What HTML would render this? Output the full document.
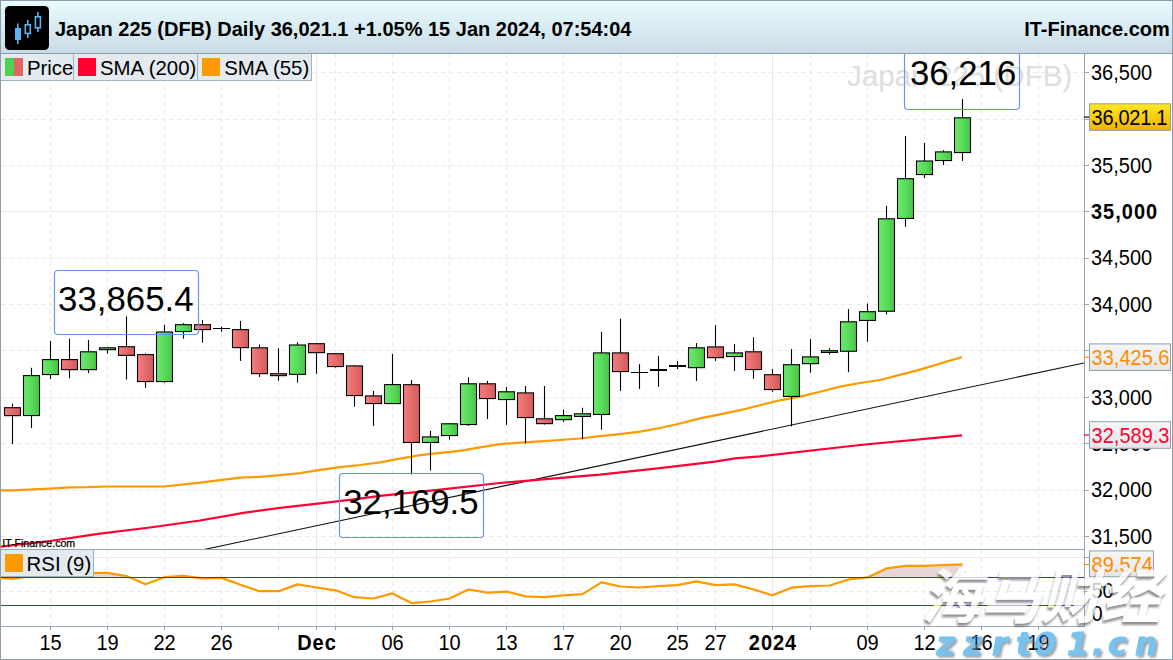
<!DOCTYPE html>
<html><head><meta charset="utf-8"><title>Japan 225 (DFB) Daily</title>
<style>
html,body{margin:0;padding:0;background:#fff;width:1173px;height:660px;overflow:hidden}
svg{display:block}
text{font-family:'Liberation Sans', Arial, sans-serif}
</style></head><body>
<svg width="1173" height="660" viewBox="0 0 1173 660">
<defs>
<linearGradient id="hdr" x1="0" y1="0" x2="0" y2="1">
 <stop offset="0" stop-color="#e8fcff"/><stop offset="1" stop-color="#c9dbe5"/>
</linearGradient>
<linearGradient id="gG" x1="0" y1="0" x2="1" y2="0">
 <stop offset="0" stop-color="#76f876"/><stop offset="0.08" stop-color="#68e868"/><stop offset="0.5" stop-color="#5bdb5b"/><stop offset="0.92" stop-color="#47c947"/><stop offset="1" stop-color="#4cd64c"/>
</linearGradient>
<linearGradient id="gR" x1="0" y1="0" x2="1" y2="0">
 <stop offset="0" stop-color="#ff8686"/><stop offset="0.08" stop-color="#f27a7a"/><stop offset="0.5" stop-color="#e56c6c"/><stop offset="0.92" stop-color="#d55d5d"/><stop offset="1" stop-color="#e06464"/>
</linearGradient>
<linearGradient id="gY" x1="0" y1="0" x2="0" y2="1">
 <stop offset="0" stop-color="#ffe824"/><stop offset="1" stop-color="#f0b400"/>
</linearGradient>
<linearGradient id="gL" x1="0" y1="0" x2="0" y2="1">
 <stop offset="0" stop-color="#f6f6f6"/><stop offset="1" stop-color="#e6e6e6"/>
</linearGradient>
<clipPath id="pclip"><rect x="1" y="54" width="1083" height="495"/></clipPath>
<clipPath id="rclip"><rect x="1" y="550" width="1083" height="76"/></clipPath>
</defs>
<rect x="0" y="0" width="1173" height="660" fill="#fff"/>

<g clip-path="url(#pclip)">
<line x1="1" y1="536.5" x2="1084" y2="536.5" stroke="#e9e9e9" stroke-width="1" stroke-dasharray="4 4"/>
<line x1="1" y1="490.5" x2="1084" y2="490.5" stroke="#e9e9e9" stroke-width="1" stroke-dasharray="4 4"/>
<line x1="1" y1="443.5" x2="1084" y2="443.5" stroke="#e9e9e9" stroke-width="1" stroke-dasharray="4 4"/>
<line x1="1" y1="397.5" x2="1084" y2="397.5" stroke="#e9e9e9" stroke-width="1" stroke-dasharray="4 4"/>
<line x1="1" y1="350.5" x2="1084" y2="350.5" stroke="#e9e9e9" stroke-width="1" stroke-dasharray="4 4"/>
<line x1="1" y1="304.5" x2="1084" y2="304.5" stroke="#e9e9e9" stroke-width="1" stroke-dasharray="4 4"/>
<line x1="1" y1="258.5" x2="1084" y2="258.5" stroke="#e9e9e9" stroke-width="1" stroke-dasharray="4 4"/>
<line x1="1" y1="211.5" x2="1084" y2="211.5" stroke="#eaeaea" stroke-width="1"/>
<line x1="1" y1="165.5" x2="1084" y2="165.5" stroke="#e9e9e9" stroke-width="1" stroke-dasharray="4 4"/>
<line x1="1" y1="119.5" x2="1084" y2="119.5" stroke="#e9e9e9" stroke-width="1" stroke-dasharray="4 4"/>
<line x1="1" y1="72.5" x2="1084" y2="72.5" stroke="#e9e9e9" stroke-width="1" stroke-dasharray="4 4"/>
<line x1="50.5" y1="54" x2="50.5" y2="549" stroke="#e9e9e9" stroke-width="1" stroke-dasharray="4 4"/>
<line x1="107.5" y1="54" x2="107.5" y2="549" stroke="#e9e9e9" stroke-width="1" stroke-dasharray="4 4"/>
<line x1="164.5" y1="54" x2="164.5" y2="549" stroke="#e9e9e9" stroke-width="1" stroke-dasharray="4 4"/>
<line x1="221.5" y1="54" x2="221.5" y2="549" stroke="#e9e9e9" stroke-width="1" stroke-dasharray="4 4"/>
<line x1="278.5" y1="54" x2="278.5" y2="549" stroke="#e9e9e9" stroke-width="1" stroke-dasharray="4 4"/>
<line x1="335.5" y1="54" x2="335.5" y2="549" stroke="#e9e9e9" stroke-width="1" stroke-dasharray="4 4"/>
<line x1="392.5" y1="54" x2="392.5" y2="549" stroke="#e9e9e9" stroke-width="1" stroke-dasharray="4 4"/>
<line x1="449.5" y1="54" x2="449.5" y2="549" stroke="#e9e9e9" stroke-width="1" stroke-dasharray="4 4"/>
<line x1="506.5" y1="54" x2="506.5" y2="549" stroke="#e9e9e9" stroke-width="1" stroke-dasharray="4 4"/>
<line x1="563.5" y1="54" x2="563.5" y2="549" stroke="#e9e9e9" stroke-width="1" stroke-dasharray="4 4"/>
<line x1="620.5" y1="54" x2="620.5" y2="549" stroke="#e9e9e9" stroke-width="1" stroke-dasharray="4 4"/>
<line x1="677.5" y1="54" x2="677.5" y2="549" stroke="#e9e9e9" stroke-width="1" stroke-dasharray="4 4"/>
<line x1="715.5" y1="54" x2="715.5" y2="549" stroke="#e9e9e9" stroke-width="1" stroke-dasharray="4 4"/>
<line x1="810.5" y1="54" x2="810.5" y2="549" stroke="#e9e9e9" stroke-width="1" stroke-dasharray="4 4"/>
<line x1="867.5" y1="54" x2="867.5" y2="549" stroke="#e9e9e9" stroke-width="1" stroke-dasharray="4 4"/>
<line x1="924.5" y1="54" x2="924.5" y2="549" stroke="#e9e9e9" stroke-width="1" stroke-dasharray="4 4"/>
<line x1="981.5" y1="54" x2="981.5" y2="549" stroke="#e9e9e9" stroke-width="1" stroke-dasharray="4 4"/>
<line x1="1038.5" y1="54" x2="1038.5" y2="549" stroke="#e9e9e9" stroke-width="1" stroke-dasharray="4 4"/>
<line x1="316.5" y1="54" x2="316.5" y2="549" stroke="#eaeaea" stroke-width="1"/>
<line x1="772.5" y1="54" x2="772.5" y2="549" stroke="#eaeaea" stroke-width="1"/>
<text x="847" y="86" font-size="29.6" fill="#dedede">Japan 225 (DFB)</text>
</g>
<g clip-path="url(#pclip)">
<line x1="200" y1="550.4" x2="1084" y2="363" stroke="#111" stroke-width="1.1"/>
<polyline points="1.0,546.6 50.0,541.0 100.0,533.7 150.0,527.5 200.0,520.5 245.0,512.6 280.0,507.9 320.0,503.3 360.0,498.7 380.0,495.8 440.0,489.6 500.0,483.0 540.0,479.6 600.0,474.7 660.0,468.1 715.0,461.6 735.0,458.4 760.0,456.3 860.0,445.0 962.0,435.3" fill="none" stroke="#ff0033" stroke-width="2.2" stroke-linejoin="round"/>
<polyline points="1.0,490.4 12.0,490.4 50.0,488.6 70.0,487.4 88.0,487.2 107.0,486.5 164.0,486.5 200.0,482.6 240.0,477.7 260.0,476.8 280.0,475.2 300.0,473.1 320.0,469.8 340.0,467.2 360.0,465.0 380.0,462.3 400.0,458.6 420.0,455.2 440.0,452.9 460.0,450.9 480.0,447.3 500.0,444.1 520.0,442.7 540.0,441.4 560.0,440.0 580.0,438.5 600.0,436.2 620.0,434.1 640.0,431.7 660.0,428.0 680.0,423.5 700.0,418.4 720.0,414.3 740.0,410.2 760.0,405.2 780.0,400.3 800.0,396.6 820.0,391.8 840.0,386.6 860.0,383.0 880.0,380.0 920.0,369.6 962.0,357.0" fill="none" stroke="#ff9900" stroke-width="2.2" stroke-linejoin="round"/>
<line x1="12.5" y1="403.7" x2="12.5" y2="444.1" stroke="#000" stroke-width="1.1"/>
<line x1="31.5" y1="367.8" x2="31.5" y2="427.9" stroke="#000" stroke-width="1.1"/>
<line x1="50.5" y1="340.9" x2="50.5" y2="379.1" stroke="#000" stroke-width="1.1"/>
<line x1="69.5" y1="338.7" x2="69.5" y2="378.2" stroke="#000" stroke-width="1.1"/>
<line x1="88.5" y1="340.0" x2="88.5" y2="373.1" stroke="#000" stroke-width="1.1"/>
<line x1="107.5" y1="347.3" x2="107.5" y2="353.6" stroke="#000" stroke-width="1.1"/>
<line x1="126.5" y1="316.4" x2="126.5" y2="379.5" stroke="#000" stroke-width="1.1"/>
<line x1="145.5" y1="353.3" x2="145.5" y2="387.8" stroke="#000" stroke-width="1.1"/>
<line x1="164.5" y1="324.9" x2="164.5" y2="382.7" stroke="#000" stroke-width="1.1"/>
<line x1="183.5" y1="323.1" x2="183.5" y2="338.7" stroke="#000" stroke-width="1.1"/>
<line x1="202.5" y1="320.0" x2="202.5" y2="342.7" stroke="#000" stroke-width="1.1"/>
<line x1="221.5" y1="326.9" x2="221.5" y2="331.8" stroke="#000" stroke-width="1.1"/>
<line x1="240.5" y1="320.9" x2="240.5" y2="360.9" stroke="#000" stroke-width="1.1"/>
<line x1="259.5" y1="344.5" x2="259.5" y2="376.9" stroke="#000" stroke-width="1.1"/>
<line x1="278.5" y1="348.1" x2="278.5" y2="380.7" stroke="#000" stroke-width="1.1"/>
<line x1="297.5" y1="342.3" x2="297.5" y2="382.6" stroke="#000" stroke-width="1.1"/>
<line x1="316.5" y1="343.2" x2="316.5" y2="373.7" stroke="#000" stroke-width="1.1"/>
<line x1="335.5" y1="353.2" x2="335.5" y2="367.7" stroke="#000" stroke-width="1.1"/>
<line x1="354.5" y1="365.4" x2="354.5" y2="406.8" stroke="#000" stroke-width="1.1"/>
<line x1="373.5" y1="391.0" x2="373.5" y2="425.9" stroke="#000" stroke-width="1.1"/>
<line x1="392.5" y1="353.9" x2="392.5" y2="403.5" stroke="#000" stroke-width="1.1"/>
<line x1="411.5" y1="380.0" x2="411.5" y2="474.5" stroke="#000" stroke-width="1.1"/>
<line x1="430.5" y1="430.9" x2="430.5" y2="470.5" stroke="#000" stroke-width="1.1"/>
<line x1="449.5" y1="423.3" x2="449.5" y2="439.6" stroke="#000" stroke-width="1.1"/>
<line x1="468.5" y1="377.3" x2="468.5" y2="425.8" stroke="#000" stroke-width="1.1"/>
<line x1="487.5" y1="380.9" x2="487.5" y2="419.1" stroke="#000" stroke-width="1.1"/>
<line x1="506.5" y1="386.9" x2="506.5" y2="424.9" stroke="#000" stroke-width="1.1"/>
<line x1="525.5" y1="386.0" x2="525.5" y2="443.6" stroke="#000" stroke-width="1.1"/>
<line x1="544.5" y1="386.0" x2="544.5" y2="424.5" stroke="#000" stroke-width="1.1"/>
<line x1="563.5" y1="409.6" x2="563.5" y2="421.8" stroke="#000" stroke-width="1.1"/>
<line x1="582.5" y1="407.8" x2="582.5" y2="439.1" stroke="#000" stroke-width="1.1"/>
<line x1="601.5" y1="331.8" x2="601.5" y2="429.6" stroke="#000" stroke-width="1.1"/>
<line x1="620.5" y1="318.7" x2="620.5" y2="390.9" stroke="#000" stroke-width="1.1"/>
<line x1="639.5" y1="364.2" x2="639.5" y2="388.9" stroke="#000" stroke-width="1.1"/>
<line x1="658.5" y1="356.1" x2="658.5" y2="386.8" stroke="#000" stroke-width="1.1"/>
<line x1="677.5" y1="361.1" x2="677.5" y2="369.0" stroke="#000" stroke-width="1.1"/>
<line x1="696.5" y1="343.1" x2="696.5" y2="380.9" stroke="#000" stroke-width="1.1"/>
<line x1="715.5" y1="325.1" x2="715.5" y2="360.9" stroke="#000" stroke-width="1.1"/>
<line x1="734.5" y1="344.0" x2="734.5" y2="370.9" stroke="#000" stroke-width="1.1"/>
<line x1="753.5" y1="337.3" x2="753.5" y2="378.7" stroke="#000" stroke-width="1.1"/>
<line x1="772.5" y1="369.1" x2="772.5" y2="391.8" stroke="#000" stroke-width="1.1"/>
<line x1="791.5" y1="349.1" x2="791.5" y2="426.4" stroke="#000" stroke-width="1.1"/>
<line x1="810.5" y1="339.1" x2="810.5" y2="372.7" stroke="#000" stroke-width="1.1"/>
<line x1="829.5" y1="348.2" x2="829.5" y2="354.5" stroke="#000" stroke-width="1.1"/>
<line x1="848.5" y1="309.0" x2="848.5" y2="372.2" stroke="#000" stroke-width="1.1"/>
<line x1="867.5" y1="303.5" x2="867.5" y2="341.7" stroke="#000" stroke-width="1.1"/>
<line x1="886.5" y1="205.9" x2="886.5" y2="314.4" stroke="#000" stroke-width="1.1"/>
<line x1="905.5" y1="135.9" x2="905.5" y2="226.8" stroke="#000" stroke-width="1.1"/>
<line x1="924.5" y1="143.0" x2="924.5" y2="178.0" stroke="#000" stroke-width="1.1"/>
<line x1="943.5" y1="150.2" x2="943.5" y2="165.0" stroke="#000" stroke-width="1.1"/>
<line x1="962.5" y1="99.1" x2="962.5" y2="160.9" stroke="#000" stroke-width="1.1"/>
<rect x="4.5" y="407.70" width="16" height="7.95" fill="url(#gR)" stroke="#000" stroke-width="1.1"/>
<rect x="23.5" y="375.60" width="16" height="39.95" fill="url(#gG)" stroke="#000" stroke-width="1.1"/>
<rect x="42.5" y="359.60" width="16" height="14.95" fill="url(#gG)" stroke="#000" stroke-width="1.1"/>
<rect x="61.5" y="359.60" width="16" height="10.05" fill="url(#gR)" stroke="#000" stroke-width="1.1"/>
<rect x="80.5" y="351.80" width="16" height="17.85" fill="url(#gG)" stroke="#000" stroke-width="1.1"/>
<rect x="99.5" y="347.80" width="16" height="1.85" fill="url(#gG)" stroke="#000" stroke-width="1.1"/>
<rect x="118.5" y="346.70" width="16" height="8.65" fill="url(#gR)" stroke="#000" stroke-width="1.1"/>
<rect x="137.5" y="354.60" width="16" height="26.95" fill="url(#gR)" stroke="#000" stroke-width="1.1"/>
<rect x="156.5" y="332.00" width="16" height="49.55" fill="url(#gG)" stroke="#000" stroke-width="1.1"/>
<rect x="175.5" y="324.70" width="16" height="6.85" fill="url(#gG)" stroke="#000" stroke-width="1.1"/>
<rect x="194.5" y="324.70" width="16" height="4.85" fill="url(#gR)" stroke="#000" stroke-width="1.1"/>
<rect x="213" y="328.00" width="17" height="1.00" fill="#000"/>
<rect x="232.5" y="329.60" width="16" height="18.05" fill="url(#gR)" stroke="#000" stroke-width="1.1"/>
<rect x="251.5" y="347.80" width="16" height="25.85" fill="url(#gR)" stroke="#000" stroke-width="1.1"/>
<rect x="270.5" y="373.70" width="16" height="1.95" fill="url(#gR)" stroke="#000" stroke-width="1.1"/>
<rect x="289.5" y="345.00" width="16" height="29.35" fill="url(#gG)" stroke="#000" stroke-width="1.1"/>
<rect x="308.5" y="343.70" width="16" height="8.95" fill="url(#gR)" stroke="#000" stroke-width="1.1"/>
<rect x="327.5" y="353.70" width="16" height="12.85" fill="url(#gR)" stroke="#000" stroke-width="1.1"/>
<rect x="346.5" y="365.90" width="16" height="29.65" fill="url(#gR)" stroke="#000" stroke-width="1.1"/>
<rect x="365.5" y="395.90" width="16" height="7.65" fill="url(#gR)" stroke="#000" stroke-width="1.1"/>
<rect x="384.5" y="384.60" width="16" height="18.95" fill="url(#gG)" stroke="#000" stroke-width="1.1"/>
<rect x="403.5" y="384.70" width="16" height="57.75" fill="url(#gR)" stroke="#000" stroke-width="1.1"/>
<rect x="422.5" y="436.90" width="16" height="5.55" fill="url(#gG)" stroke="#000" stroke-width="1.1"/>
<rect x="441.5" y="423.80" width="16" height="11.75" fill="url(#gG)" stroke="#000" stroke-width="1.1"/>
<rect x="460.5" y="383.80" width="16" height="40.75" fill="url(#gG)" stroke="#000" stroke-width="1.1"/>
<rect x="479.5" y="383.80" width="16" height="14.75" fill="url(#gR)" stroke="#000" stroke-width="1.1"/>
<rect x="498.5" y="391.80" width="16" height="7.75" fill="url(#gG)" stroke="#000" stroke-width="1.1"/>
<rect x="517.5" y="392.90" width="16" height="24.65" fill="url(#gR)" stroke="#000" stroke-width="1.1"/>
<rect x="536.5" y="418.80" width="16" height="4.85" fill="url(#gR)" stroke="#000" stroke-width="1.1"/>
<rect x="555.5" y="415.60" width="16" height="4.05" fill="url(#gG)" stroke="#000" stroke-width="1.1"/>
<rect x="574.5" y="413.80" width="16" height="2.65" fill="url(#gG)" stroke="#000" stroke-width="1.1"/>
<rect x="593.5" y="352.90" width="16" height="61.55" fill="url(#gG)" stroke="#000" stroke-width="1.1"/>
<rect x="612.5" y="352.90" width="16" height="18.65" fill="url(#gR)" stroke="#000" stroke-width="1.1"/>
<rect x="631" y="372.00" width="17" height="1.00" fill="#000"/>
<rect x="650" y="369.00" width="17" height="2.00" fill="#000"/>
<rect x="669" y="365.00" width="17" height="2.00" fill="#000"/>
<rect x="688.5" y="347.80" width="16" height="19.85" fill="url(#gG)" stroke="#000" stroke-width="1.1"/>
<rect x="707.5" y="346.90" width="16" height="10.75" fill="url(#gR)" stroke="#000" stroke-width="1.1"/>
<rect x="726.5" y="352.90" width="16" height="3.65" fill="url(#gG)" stroke="#000" stroke-width="1.1"/>
<rect x="745.5" y="351.80" width="16" height="17.75" fill="url(#gR)" stroke="#000" stroke-width="1.1"/>
<rect x="764.5" y="374.70" width="16" height="14.85" fill="url(#gR)" stroke="#000" stroke-width="1.1"/>
<rect x="783.5" y="364.70" width="16" height="31.75" fill="url(#gG)" stroke="#000" stroke-width="1.1"/>
<rect x="802.5" y="356.90" width="16" height="6.75" fill="url(#gG)" stroke="#000" stroke-width="1.1"/>
<rect x="821.5" y="350.70" width="16" height="1.75" fill="url(#gG)" stroke="#000" stroke-width="1.1"/>
<rect x="840.5" y="321.80" width="16" height="29.45" fill="url(#gG)" stroke="#000" stroke-width="1.1"/>
<rect x="859.5" y="311.70" width="16" height="8.75" fill="url(#gG)" stroke="#000" stroke-width="1.1"/>
<rect x="878.5" y="218.80" width="16" height="92.45" fill="url(#gG)" stroke="#000" stroke-width="1.1"/>
<rect x="897.5" y="178.70" width="16" height="39.75" fill="url(#gG)" stroke="#000" stroke-width="1.1"/>
<rect x="916.5" y="161.00" width="16" height="13.55" fill="url(#gG)" stroke="#000" stroke-width="1.1"/>
<rect x="935.5" y="151.90" width="16" height="8.65" fill="url(#gG)" stroke="#000" stroke-width="1.1"/>
<rect x="954.5" y="117.80" width="16" height="34.75" fill="url(#gG)" stroke="#000" stroke-width="1.1"/>
<rect x="54.5" y="270.5" width="144" height="64" rx="3.5" fill="none" stroke="#6a95ee" stroke-width="1.2"/>
<text x="58.1" y="310.6" font-size="34.8" fill="#000">33,865.4</text>
<rect x="339.5" y="473.5" width="144" height="64" rx="3.5" fill="none" stroke="#6a95ee" stroke-width="1.2"/>
<text x="343.2" y="514" font-size="34.8" fill="#000">32,169.5</text>
<rect x="904.5" y="45.5" width="115" height="64" rx="3.5" fill="none" stroke="#6a95ee" stroke-width="1.2"/>
<text x="909.9" y="84.9" font-size="34.8" fill="#000">36,216</text>
<text x="2.2" y="546.7" font-size="10.6" fill="#000" stroke="#000" stroke-width="0.25">IT-Finance.com</text>
</g>
<g clip-path="url(#rclip)">
<line x1="1" y1="557.5" x2="1084" y2="557.5" stroke="#eaeaea" stroke-width="1"/>
<line x1="1" y1="591.5" x2="1084" y2="591.5" stroke="#e9e9e9" stroke-width="1" stroke-dasharray="4 4"/>
<line x1="50.5" y1="550" x2="50.5" y2="626" stroke="#e9e9e9" stroke-width="1" stroke-dasharray="4 4"/>
<line x1="107.5" y1="550" x2="107.5" y2="626" stroke="#e9e9e9" stroke-width="1" stroke-dasharray="4 4"/>
<line x1="164.5" y1="550" x2="164.5" y2="626" stroke="#e9e9e9" stroke-width="1" stroke-dasharray="4 4"/>
<line x1="221.5" y1="550" x2="221.5" y2="626" stroke="#e9e9e9" stroke-width="1" stroke-dasharray="4 4"/>
<line x1="278.5" y1="550" x2="278.5" y2="626" stroke="#e9e9e9" stroke-width="1" stroke-dasharray="4 4"/>
<line x1="335.5" y1="550" x2="335.5" y2="626" stroke="#e9e9e9" stroke-width="1" stroke-dasharray="4 4"/>
<line x1="392.5" y1="550" x2="392.5" y2="626" stroke="#e9e9e9" stroke-width="1" stroke-dasharray="4 4"/>
<line x1="449.5" y1="550" x2="449.5" y2="626" stroke="#e9e9e9" stroke-width="1" stroke-dasharray="4 4"/>
<line x1="506.5" y1="550" x2="506.5" y2="626" stroke="#e9e9e9" stroke-width="1" stroke-dasharray="4 4"/>
<line x1="563.5" y1="550" x2="563.5" y2="626" stroke="#e9e9e9" stroke-width="1" stroke-dasharray="4 4"/>
<line x1="620.5" y1="550" x2="620.5" y2="626" stroke="#e9e9e9" stroke-width="1" stroke-dasharray="4 4"/>
<line x1="677.5" y1="550" x2="677.5" y2="626" stroke="#e9e9e9" stroke-width="1" stroke-dasharray="4 4"/>
<line x1="715.5" y1="550" x2="715.5" y2="626" stroke="#e9e9e9" stroke-width="1" stroke-dasharray="4 4"/>
<line x1="810.5" y1="550" x2="810.5" y2="626" stroke="#e9e9e9" stroke-width="1" stroke-dasharray="4 4"/>
<line x1="867.5" y1="550" x2="867.5" y2="626" stroke="#e9e9e9" stroke-width="1" stroke-dasharray="4 4"/>
<line x1="924.5" y1="550" x2="924.5" y2="626" stroke="#e9e9e9" stroke-width="1" stroke-dasharray="4 4"/>
<line x1="981.5" y1="550" x2="981.5" y2="626" stroke="#e9e9e9" stroke-width="1" stroke-dasharray="4 4"/>
<line x1="1038.5" y1="550" x2="1038.5" y2="626" stroke="#e9e9e9" stroke-width="1" stroke-dasharray="4 4"/>
<line x1="316.5" y1="550" x2="316.5" y2="626" stroke="#eaeaea" stroke-width="1"/>
<line x1="772.5" y1="550" x2="772.5" y2="626" stroke="#eaeaea" stroke-width="1"/>
<polygon points="21.4,577.6 31.5,576.0 50.5,572.5 69.5,574.0 88.5,573.0 107.5,572.9 126.5,576.1 130.0,577.6" fill="#e8d6d6"/>
<polygon points="163.4,577.6 164.5,577.2 183.5,575.8 196.7,577.6" fill="#e8d6d6"/>
<polygon points="865.7,577.6 867.5,577.4 886.5,568.4 905.5,565.8 924.5,565.8 943.5,565.0 962.5,564.3 962.5,577.6" fill="#e8d6d6"/>
<polyline points="0.0,577.9 12.5,579.0 31.5,576.0 50.5,572.5 69.5,574.0 88.5,573.0 107.5,572.9 126.5,576.1 145.5,584.3 164.5,577.2 183.5,575.8 202.5,578.4 221.5,577.9 240.5,584.8 259.5,591.2 278.5,591.2 297.5,584.4 316.5,587.5 335.5,590.3 354.5,597.2 373.5,598.5 392.5,593.4 411.5,603.1 430.5,601.5 449.5,598.5 468.5,589.5 487.5,592.6 506.5,591.6 525.5,596.4 544.5,597.2 563.5,595.4 582.5,594.1 601.5,582.4 620.5,586.5 639.5,587.5 658.5,586.2 677.5,585.2 696.5,581.3 715.5,585.2 734.5,584.4 753.5,589.5 772.5,595.2 791.5,587.7 810.5,586.2 829.5,585.5 848.5,579.5 867.5,577.4 886.5,568.4 905.5,565.8 924.5,565.8 943.5,565.0 962.5,564.3" fill="none" stroke="#ff9900" stroke-width="2.2" stroke-linejoin="round"/>
<line x1="1" y1="577.5" x2="1084" y2="577.5" stroke="#3434dc" stroke-width="1.1"/>
<line x1="1" y1="605.5" x2="1084" y2="605.5" stroke="#3434dc" stroke-width="1.1"/>
</g>
<line x1="0" y1="549.5" x2="1084" y2="549.5" stroke="#97a7b2" stroke-width="1"/>
<line x1="0" y1="626.5" x2="1084" y2="626.5" stroke="#97a7b2" stroke-width="1"/>
<line x1="1084.5" y1="54" x2="1084.5" y2="627" stroke="#97a7b2" stroke-width="1"/>
<line x1="50.5" y1="626" x2="50.5" y2="630" stroke="#97a7b2" stroke-width="1"/>
<line x1="107.5" y1="626" x2="107.5" y2="630" stroke="#97a7b2" stroke-width="1"/>
<line x1="164.5" y1="626" x2="164.5" y2="630" stroke="#97a7b2" stroke-width="1"/>
<line x1="221.5" y1="626" x2="221.5" y2="630" stroke="#97a7b2" stroke-width="1"/>
<line x1="278.5" y1="626" x2="278.5" y2="630" stroke="#97a7b2" stroke-width="1"/>
<line x1="335.5" y1="626" x2="335.5" y2="630" stroke="#97a7b2" stroke-width="1"/>
<line x1="392.5" y1="626" x2="392.5" y2="630" stroke="#97a7b2" stroke-width="1"/>
<line x1="449.5" y1="626" x2="449.5" y2="630" stroke="#97a7b2" stroke-width="1"/>
<line x1="506.5" y1="626" x2="506.5" y2="630" stroke="#97a7b2" stroke-width="1"/>
<line x1="563.5" y1="626" x2="563.5" y2="630" stroke="#97a7b2" stroke-width="1"/>
<line x1="620.5" y1="626" x2="620.5" y2="630" stroke="#97a7b2" stroke-width="1"/>
<line x1="677.5" y1="626" x2="677.5" y2="630" stroke="#97a7b2" stroke-width="1"/>
<line x1="715.5" y1="626" x2="715.5" y2="630" stroke="#97a7b2" stroke-width="1"/>
<line x1="772.5" y1="626" x2="772.5" y2="630" stroke="#97a7b2" stroke-width="1"/>
<line x1="810.5" y1="626" x2="810.5" y2="630" stroke="#97a7b2" stroke-width="1"/>
<line x1="867.5" y1="626" x2="867.5" y2="630" stroke="#97a7b2" stroke-width="1"/>
<line x1="924.5" y1="626" x2="924.5" y2="630" stroke="#97a7b2" stroke-width="1"/>
<line x1="981.5" y1="626" x2="981.5" y2="630" stroke="#97a7b2" stroke-width="1"/>
<line x1="1038.5" y1="626" x2="1038.5" y2="630" stroke="#97a7b2" stroke-width="1"/>
<line x1="316.5" y1="626" x2="316.5" y2="630" stroke="#97a7b2" stroke-width="1"/>
<text transform="translate(50.5,650.4) scale(1,1.07)" font-size="20" text-anchor="middle">15</text>
<text transform="translate(107.5,650.4) scale(1,1.07)" font-size="20" text-anchor="middle">19</text>
<text transform="translate(164.5,650.4) scale(1,1.07)" font-size="20" text-anchor="middle">22</text>
<text transform="translate(221.5,650.4) scale(1,1.07)" font-size="20" text-anchor="middle">26</text>
<text transform="translate(317.0,650.4) scale(1,1.07)" font-size="20" text-anchor="middle" font-weight="bold" letter-spacing="1">Dec</text>
<text transform="translate(392.5,650.4) scale(1,1.07)" font-size="20" text-anchor="middle">06</text>
<text transform="translate(449.5,650.4) scale(1,1.07)" font-size="20" text-anchor="middle">10</text>
<text transform="translate(506.5,650.4) scale(1,1.07)" font-size="20" text-anchor="middle">13</text>
<text transform="translate(563.5,650.4) scale(1,1.07)" font-size="20" text-anchor="middle">17</text>
<text transform="translate(620.5,650.4) scale(1,1.07)" font-size="20" text-anchor="middle">20</text>
<text transform="translate(677.5,650.4) scale(1,1.07)" font-size="20" text-anchor="middle">25</text>
<text transform="translate(715.5,650.4) scale(1,1.07)" font-size="20" text-anchor="middle">27</text>
<text transform="translate(773.0,650.4) scale(1,1.07)" font-size="20" text-anchor="middle" font-weight="bold" letter-spacing="1">2024</text>
<text transform="translate(867.5,650.4) scale(1,1.07)" font-size="20" text-anchor="middle">09</text>
<text transform="translate(924.5,650.4) scale(1,1.07)" font-size="20" text-anchor="middle">12</text>
<text transform="translate(981.5,650.4) scale(1,1.07)" font-size="20" text-anchor="middle">16</text>
<text transform="translate(1038.5,650.4) scale(1,1.07)" font-size="20" text-anchor="middle">19</text>
<line x1="1084" y1="72.5" x2="1089" y2="72.5" stroke="#97a7b2" stroke-width="1"/>
<text transform="translate(1091,79.9) scale(1,1.07)" font-size="20">36,500</text>
<line x1="1084" y1="165.5" x2="1089" y2="165.5" stroke="#97a7b2" stroke-width="1"/>
<text transform="translate(1091,172.6) scale(1,1.07)" font-size="20">35,500</text>
<line x1="1084" y1="211.5" x2="1089" y2="211.5" stroke="#97a7b2" stroke-width="1"/>
<text transform="translate(1091,219.0) scale(1,1.07)" font-size="20" font-weight="bold" letter-spacing="1">35,000</text>
<line x1="1084" y1="258.5" x2="1089" y2="258.5" stroke="#97a7b2" stroke-width="1"/>
<text transform="translate(1091,265.4) scale(1,1.07)" font-size="20">34,500</text>
<line x1="1084" y1="304.5" x2="1089" y2="304.5" stroke="#97a7b2" stroke-width="1"/>
<text transform="translate(1091,311.7) scale(1,1.07)" font-size="20">34,000</text>
<line x1="1084" y1="397.5" x2="1089" y2="397.5" stroke="#97a7b2" stroke-width="1"/>
<text transform="translate(1091,404.5) scale(1,1.07)" font-size="20">33,000</text>
<line x1="1084" y1="443.5" x2="1089" y2="443.5" stroke="#97a7b2" stroke-width="1"/>
<text transform="translate(1091,450.8) scale(1,1.07)" font-size="20">32,500</text>
<line x1="1084" y1="490.5" x2="1089" y2="490.5" stroke="#97a7b2" stroke-width="1"/>
<text transform="translate(1091,497.2) scale(1,1.07)" font-size="20">32,000</text>
<line x1="1084" y1="536.5" x2="1089" y2="536.5" stroke="#97a7b2" stroke-width="1"/>
<text transform="translate(1091,543.6) scale(1,1.07)" font-size="20">31,500</text>
<line x1="1084" y1="557.5" x2="1089" y2="557.5" stroke="#97a7b2" stroke-width="1"/>
<line x1="1084" y1="591.5" x2="1089" y2="591.5" stroke="#97a7b2" stroke-width="1"/>
<text transform="translate(1091.5,598.3) scale(1,1.07)" font-size="20">50</text>
<text transform="translate(1091.5,620.6) scale(1,1.07)" font-size="20">0</text>
<line x1="1084" y1="119.5" x2="1089" y2="119.5" stroke="#97a7b2" stroke-width="1"/>
<line x1="1084" y1="350.5" x2="1089" y2="350.5" stroke="#97a7b2" stroke-width="1"/>
<line x1="1084" y1="117.1" x2="1089" y2="117.1" stroke="#000" stroke-width="1.2"/>
<rect x="1089.5" y="103.8" width="81" height="26.6" fill="url(#gY)" stroke="#8fa0aa" stroke-width="1"/>
<text transform="translate(1091.6,124.7) scale(1,1.07)" font-size="20" fill="#000" letter-spacing="-0.3">36,021.1</text>
<line x1="1084" y1="357.2" x2="1089" y2="357.2" stroke="#ff8c00" stroke-width="1.2"/>
<rect x="1089.5" y="343.9" width="81" height="26.6" fill="url(#gL)" stroke="#8fa0aa" stroke-width="1"/>
<text transform="translate(1091.6,364.8) scale(1,1.07)" font-size="20" fill="#ff8c00">33,425.6</text>
<line x1="1084" y1="435.0" x2="1089" y2="435.0" stroke="#ff0033" stroke-width="1.2"/>
<rect x="1089.5" y="421.7" width="81" height="26.6" fill="url(#gL)" stroke="#8fa0aa" stroke-width="1"/>
<text transform="translate(1091.6,442.6) scale(1,1.07)" font-size="20" fill="#ff0033">32,589.3</text>
<line x1="1084" y1="564.5" x2="1089" y2="564.5" stroke="#ff8c00" stroke-width="1.2"/>
<rect x="1089.5" y="550.9" width="64" height="25.8" fill="url(#gL)" stroke="#8fa0aa" stroke-width="1"/>
<text transform="translate(1091.6,571.7) scale(1,1.07)" font-size="20" fill="#ff8c00">89.574</text>
<rect x="0" y="0" width="1173" height="54" fill="url(#hdr)"/>
<line x1="0" y1="0.5" x2="1173" y2="0.5" stroke="#8d9ca6" stroke-width="1"/>
<line x1="0" y1="53.5" x2="1173" y2="53.5" stroke="#8d9ca6" stroke-width="1"/>
<rect x="5" y="6" width="44" height="44" rx="4.5" fill="#000"/>
<g stroke="#5ab4f0" fill="none" stroke-width="1.6"><line x1="17.8" y1="23.5" x2="17.8" y2="44"/><line x1="27.8" y1="20" x2="27.8" y2="38"/><line x1="37.9" y1="12" x2="37.9" y2="32"/></g>
<rect x="15" y="28" width="6" height="12" fill="#5ab4f0"/>
<rect x="25.3" y="24.8" width="5" height="8.6" fill="#000" stroke="#5ab4f0" stroke-width="1.6"/>
<rect x="35.4" y="16.8" width="5" height="11" fill="#000" stroke="#5ab4f0" stroke-width="1.6"/>
<text x="55" y="35.6" font-size="20" font-weight="bold" fill="#000">Japan 225 (DFB) Daily 36,021.1 +1.05% 15 Jan 2024, 07:54:04</text>
<text x="1169.8" y="35.6" font-size="20" font-weight="bold" fill="#000" text-anchor="end">IT-Finance.com</text>
<rect x="1" y="54" width="311" height="26.5" fill="#e3ebf1"/>
<line x1="1" y1="80.5" x2="312" y2="80.5" stroke="#a3b1ba" stroke-width="1"/>
<line x1="311.5" y1="54" x2="311.5" y2="81" stroke="#a3b1ba" stroke-width="1"/>
<line x1="73.5" y1="54" x2="73.5" y2="80" stroke="#a3b1ba" stroke-width="1"/>
<line x1="197.5" y1="54" x2="197.5" y2="80" stroke="#a3b1ba" stroke-width="1"/>
<rect x="5" y="58" width="9" height="18" fill="#50d050"/>
<rect x="14" y="58" width="9" height="18" fill="#e06666"/>
<text x="26.9" y="74.8" font-size="20.4">Price</text>
<rect x="78" y="58" width="18" height="18" fill="#ff0033"/>
<text x="100" y="74.8" font-size="20.4">SMA (200)</text>
<rect x="202" y="58" width="18" height="18" fill="#ff9900"/>
<text x="224.2" y="74.8" font-size="20.4">SMA (55)</text>
<rect x="1" y="550" width="92" height="26.5" fill="#e3ebf1"/>
<line x1="1" y1="576.5" x2="93.5" y2="576.5" stroke="#a3b1ba" stroke-width="1"/>
<line x1="93.5" y1="550" x2="93.5" y2="577" stroke="#a3b1ba" stroke-width="1"/>
<rect x="5" y="554" width="18" height="18" fill="#ff9900"/>
<text x="26.6" y="570.8" font-size="20.4">RSI (9)</text>
<rect x="0.5" y="0.5" width="1172" height="659" fill="none" stroke="#8d9ca6" stroke-width="1"/>
<defs><filter id="sh" x="-10%" y="-10%" width="130%" height="140%"><feGaussianBlur in="SourceAlpha" stdDeviation="1.2"/><feOffset dx="-1.5" dy="3" result="o"/><feFlood flood-color="#444" flood-opacity="0.75"/><feComposite in2="o" operator="in"/><feMerge><feMergeNode/><feMergeNode in="SourceGraphic"/></feMerge></filter><filter id="sh2" x="-10%" y="-10%" width="130%" height="140%"><feGaussianBlur in="SourceAlpha" stdDeviation="0.8"/><feOffset dx="1.5" dy="1.5" result="o"/><feFlood flood-color="#777" flood-opacity="0.7"/><feComposite in2="o" operator="in"/><feMerge><feMergeNode/><feMergeNode in="SourceGraphic"/></feMerge></filter></defs>
<g filter="url(#sh)" opacity="0.78"><text x="921" y="618" font-size="60" font-weight="bold" font-style="italic" fill="#fff" style="font-family:'Liberation Sans', 'Noto Sans CJK SC', 'WenQuanYi Zen Hei', sans-serif">海马财经</text></g>
<g filter="url(#sh2)"><text x="936.5 963.5 992 1016 1034 1067 1092 1108 1135" y="654.5" font-size="31.5" font-weight="bold" font-style="italic" fill="#78c3ee" stroke="#78c3ee" stroke-width="1" style="font-family:'DejaVu Sans', sans-serif">zzrt01.cn</text></g>
<defs><clipPath id="wmc"><text x="936.5 963.5 992 1016 1034 1067 1092 1108 1135" y="654.5" font-size="31.5" font-weight="bold" font-style="italic" stroke="#000" stroke-width="1" style="font-family:'DejaVu Sans', sans-serif">zzrt01.cn</text></clipPath></defs>
<g clip-path="url(#wmc)" fill="#0b2d72"><text transform="translate(981.5,650.4) scale(1,1.07)" font-size="20" text-anchor="middle">16</text><text transform="translate(1038.5,650.4) scale(1,1.07)" font-size="20" text-anchor="middle">19</text></g>
</svg>
</body></html>
